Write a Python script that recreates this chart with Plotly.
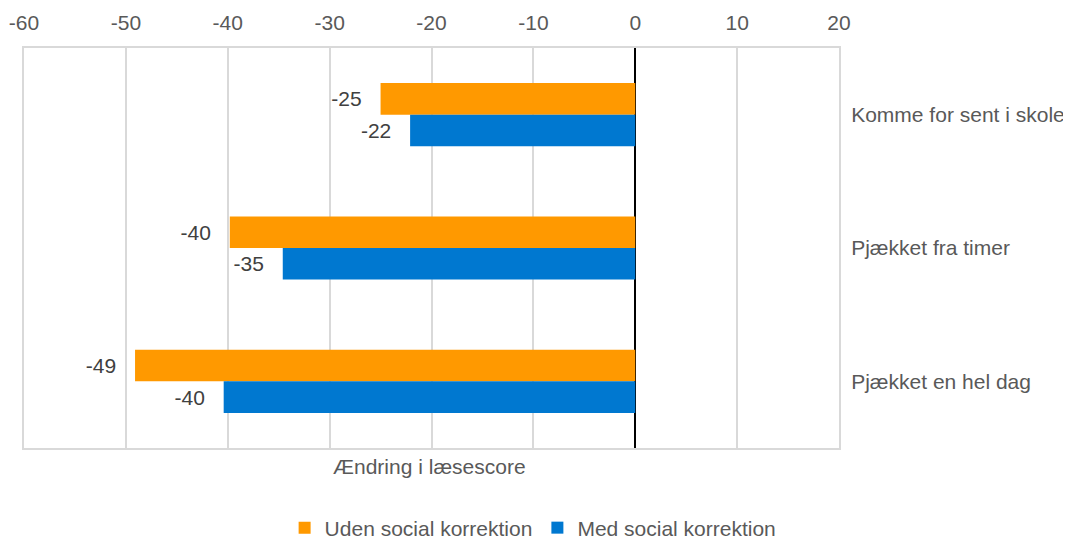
import plotly.graph_objects as go

categories = ["Komme for sent i skole", "Pjækket fra timer", "Pjækket en hel dag"]
uden_social = [-25.0, -39.8, -49.1]
med_social = [-22.1, -34.6, -40.4]
series_names = ["Uden social korrektion", "Med social korrektion"]
x_ticks = [-60, -50, -40, -30, -20, -10, 0, 10, 20]
x_tick_labels = ["-60", "-50", "-40", "-30", "-20", "-10", "0", "10", "20"]
axis_title = "Ændring i læsescore"

FONT = "Liberation Sans, Arial, sans-serif"
FS = 21
NB = "\u00a0" * 2 + "\u2009"

fig = go.Figure()
fig.add_trace(go.Bar(
    y=categories, x=uden_social, orientation="h", name=series_names[0],
    marker=dict(color="#FF9900", line=dict(width=0)),
    text=[f"{v:.0f}" + NB for v in uden_social], textposition="outside",
    textfont=dict(family=FONT, size=FS, color="#404040"),
    cliponaxis=False, constraintext="none",
))
fig.add_trace(go.Bar(
    y=categories, x=med_social, orientation="h", name=series_names[1],
    marker=dict(color="#0078D0", line=dict(width=0)),
    text=[f"{v:.0f}" + NB for v in med_social], textposition="outside",
    textfont=dict(family=FONT, size=FS, color="#404040"),
    cliponaxis=False, constraintext="none",
))

fig.update_layout(
    width=1063, height=533,
    margin=dict(l=16, r=232, t=40, b=93, autoexpand=False),
    paper_bgcolor="white", plot_bgcolor="white",
    barmode="group", bargap=0.526, bargroupgap=0,
    font=dict(family=FONT, size=FS, color="#595959"),
    xaxis=dict(
        side="top", range=[-60, 20], tickvals=x_ticks, ticktext=x_tick_labels,
        showgrid=True, gridcolor="#D9D9D9", gridwidth=1.5,
        zeroline=True, zerolinecolor="black", zerolinewidth=2,
        showline=True, mirror=True, linecolor="#D9D9D9", linewidth=2,
        ticks="", tickfont=dict(family=FONT, size=FS, color="#595959"),
        ticklabelstandoff=8, automargin=False,
    ),
    yaxis=dict(
        side="right", categoryorder="array", categoryarray=categories,
        autorange="reversed", showgrid=False, zeroline=False,
        showline=True, mirror=True, linecolor="#D9D9D9", linewidth=2,
        ticks="", ticklabelstandoff=6, automargin=False,
        tickfont=dict(family=FONT, size=FS, color="#595959"),
    ),
    legend=dict(
        orientation="h", xref="container", x=0.494, xanchor="center",
        yref="paper", y=-0.2, yanchor="middle",
        font=dict(family=FONT, size=FS, color="#595959"),
        traceorder="normal",
    ),
    annotations=[dict(
        text=axis_title, xref="paper", yref="paper", x=0.498, y=-0.045,
        xanchor="center", yanchor="middle", showarrow=False,
        font=dict(family=FONT, size=FS, color="#595959"),
    )],
)

fig.write_html("out.html")
